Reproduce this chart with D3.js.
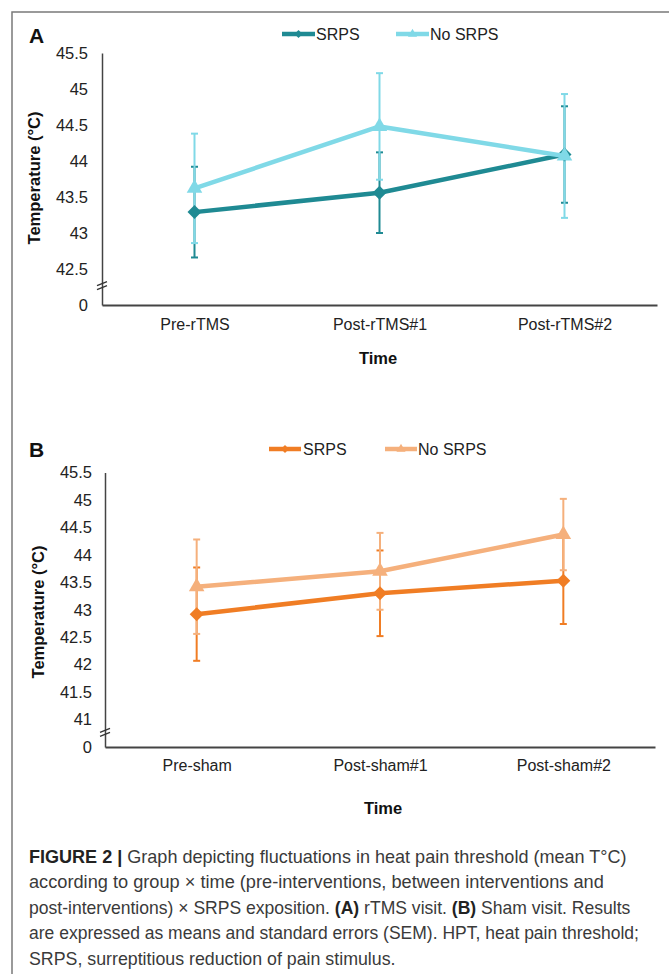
<!DOCTYPE html>
<html>
<head>
<meta charset="utf-8">
<script src="https://cdn.jsdelivr.net/npm/d3@7"></script>
<style>
  html, body { margin: 0; padding: 0; background: #fff; }
  svg { display: block; }
  text { font-family: "Liberation Sans", Arial, sans-serif; }
</style>
</head>
<body>
<svg id="fig" width="669" height="974"></svg>
<script>
// ---------- DATA ----------
const categoriesA = ["Pre-rTMS", "Post-rTMS#1", "Post-rTMS#2"];
const srpsA = [43.29, 43.56, 44.09];
const srpsAErr = [0.63, 0.56, 0.67];
const noSrpsA = [43.62, 44.48, 44.07];
const noSrpsAErr = [0.76, 0.74, 0.86];
const tickValuesA = [42, 42.5, 43, 43.5, 44, 44.5, 45, 45.5];
const tickLabelsA = ["0", "42.5", "43", "43.5", "44", "44.5", "45", "45.5"];

const categoriesB = ["Pre-sham", "Post-sham#1", "Post-sham#2"];
const srpsB = [42.92, 43.30, 43.53];
const srpsBErr = [0.85, 0.78, 0.79];
const noSrpsB = [43.42, 43.70, 44.37];
const noSrpsBErr = [0.86, 0.70, 0.65];
const tickValuesB = [40.5, 41, 41.5, 42, 42.5, 43, 43.5, 44, 44.5, 45, 45.5];
const tickLabelsB = ["0", "41", "41.5", "42", "42.5", "43", "43.5", "44", "44.5", "45", "45.5"];

const seriesNames = ["SRPS", "No SRPS"];

const captionLines = [
  [["FIGURE 2 |", true], [" Graph depicting fluctuations in heat pain threshold (mean T°C)", false]],
  [["according to group × time (pre-interventions, between interventions and", false]],
  [["post-interventions) × SRPS exposition. ", false], ["(A)", true], [" rTMS visit. ", false], ["(B)", true], [" Sham visit. Results", false]],
  [["are expressed as means and standard errors (SEM). HPT, heat pain threshold;", false]],
  [["SRPS, surreptitious reduction of pain stimulus.", false]]
];

// ---------- DRAWING ----------
const svg = d3.select("#fig");
const FONT = "'Liberation Sans', Arial, sans-serif";

// figure frame (left + top edges visible)
svg.append("rect")
  .attr("x", 12).attr("y", 12).attr("width", 720).attr("height", 1000)
  .attr("fill", "none").attr("stroke", "#7a7a7a").attr("stroke-width", 1.5);

function diamondPath(r) {
  return `M0,${-r}L${r},0L0,${r}L${-r},0Z`;
}

// fit a text element horizontally to a given width (keeps it as real text)
function fitWidth(sel, w) {
  sel.attr("textLength", w).attr("lengthAdjust", "spacingAndGlyphs");
}

function drawPanel(cfg) {
  const g = svg.append("g");
  const x = d3.scalePoint().domain(cfg.categories).range([cfg.x0, cfg.x1]).padding(0.5);
  const y = d3.scaleLinear().domain([cfg.tickValues[0], cfg.tickValues[cfg.tickValues.length - 1]])
    .range([cfg.yBottom, cfg.yTop]);

  // panel letter
  g.append("text").attr("x", 29).attr("y", cfg.letterY)
    .attr("font-size", 21).attr("font-weight", "bold").attr("fill", "#111").text(cfg.letter);

  // y axis
  const yAxis = d3.axisLeft(y).tickValues(cfg.tickValues)
    .tickFormat((d, i) => cfg.tickLabels[i]).tickSize(0).tickPadding(cfg.yPad);
  const ya = g.append("g").attr("transform", `translate(${cfg.x0},0)`).call(yAxis);
  ya.select(".domain").attr("stroke", "#444").attr("stroke-width", 1.5);
  ya.selectAll("text").attr("font-size", 16.5).attr("fill", "#222").style("font-family", FONT);

  // x axis
  const xAxis = d3.axisBottom(x).tickSize(0).tickPadding(cfg.xPad);
  const xa = g.append("g").attr("transform", `translate(0,${cfg.yBottom})`).call(xAxis);
  xa.select(".domain").attr("stroke", "#444").attr("stroke-width", 1.8);
  xa.selectAll("text").attr("font-size", 16).attr("fill", "#222").style("font-family", FONT);

  // axis break mark
  const by = y(cfg.tickValues[0]) - (y(cfg.tickValues[0]) - y(cfg.tickValues[1])) * 0.55;
  [-1.5, 2.5].forEach(o => {
    g.append("line")
      .attr("x1", cfg.x0 - 5).attr("y1", by + o + 2)
      .attr("x2", cfg.x0 + 5).attr("y2", by + o - 2)
      .attr("stroke", "#333").attr("stroke-width", 1.3);
  });

  // axis titles
  g.append("text")
    .attr("transform", `translate(${cfg.yTitleX},${cfg.yTitleY}) rotate(-90)`)
    .attr("text-anchor", "middle").attr("dominant-baseline", "central")
    .attr("font-size", 16.5).attr("font-weight", "bold").attr("fill", "#111")
    .text("Temperature (°C)");
  g.append("text").attr("x", cfg.timeX).attr("y", cfg.timeY)
    .attr("text-anchor", "middle").attr("dominant-baseline", "central")
    .attr("font-size", 16.5).attr("font-weight", "bold").attr("fill", "#111").text("Time");

  const series = [
    { vals: cfg.srps, err: cfg.srpsErr, color: cfg.c1, marker: "diamond" },
    { vals: cfg.noSrps, err: cfg.noSrpsErr, color: cfg.c2, marker: "triangle" }
  ];

  // error bars
  series.forEach(s => {
    const eg = g.append("g");
    cfg.categories.forEach((c, i) => {
      const cx = x(c), lo = y(s.vals[i] - s.err[i]), hi = y(s.vals[i] + s.err[i]);
      eg.append("line").attr("x1", cx).attr("x2", cx).attr("y1", lo).attr("y2", hi)
        .attr("stroke", s.color).attr("stroke-width", 2);
      [lo, hi].forEach(yy => eg.append("line")
        .attr("x1", cx - 3.5).attr("x2", cx + 3.5).attr("y1", yy).attr("y2", yy)
        .attr("stroke", s.color).attr("stroke-width", 2));
    });
  });

  // lines and markers
  series.forEach(s => {
    const line = d3.line().x((d, i) => x(cfg.categories[i])).y(d => y(d));
    g.append("path").datum(s.vals).attr("d", line)
      .attr("fill", "none").attr("stroke", s.color).attr("stroke-width", 4.5)
      .attr("stroke-linejoin", "round");
    s.vals.forEach((v, i) => {
      const p = g.append("path")
        .attr("transform", `translate(${x(cfg.categories[i])},${y(v)})`)
        .attr("fill", s.color);
      if (s.marker === "diamond") p.attr("d", diamondPath(7));
      else p.attr("d", d3.symbol(d3.symbolTriangle, 105)());
    });
  });

  // legend
  const lg = g.append("g");
  cfg.legend.forEach((L, k) => {
    const s = series[k];
    lg.append("line").attr("x1", L.x1).attr("x2", L.x2).attr("y1", cfg.legendY).attr("y2", cfg.legendY)
      .attr("stroke", s.color).attr("stroke-width", 4.5);
    const m = lg.append("path")
      .attr("transform", `translate(${(L.x1 + L.x2) / 2},${cfg.legendY})`).attr("fill", s.color);
    if (s.marker === "diamond") m.attr("d", diamondPath(4));
    else m.attr("d", d3.symbol(d3.symbolTriangle, 36)());
    lg.append("text").attr("x", L.tx).attr("y", cfg.legendY).attr("dominant-baseline", "central")
      .attr("font-size", 16).attr("fill", "#222").text(seriesNames[k]);
  });
}

drawPanel({
  letter: "A", letterY: 43,
  categories: categoriesA, srps: srpsA, srpsErr: srpsAErr, noSrps: noSrpsA, noSrpsErr: noSrpsAErr,
  tickValues: tickValuesA, tickLabels: tickLabelsA,
  x0: 102, x1: 657, yTop: 53, yBottom: 305, yPad: 14, xPad: 14,
  yTitleX: 34, yTitleY: 178, timeX: 378, timeY: 358,
  c1: "#1f8a93", c2: "#80d9e7",
  legendY: 34,
  legend: [{ x1: 282, x2: 315, tx: 316 }, { x1: 396, x2: 429, tx: 430 }]
});

drawPanel({
  letter: "B", letterY: 457,
  categories: categoriesB, srps: srpsB, srpsErr: srpsBErr, noSrps: noSrpsB, noSrpsErr: noSrpsBErr,
  tickValues: tickValuesB, tickLabels: tickLabelsB,
  x0: 105, x1: 655, yTop: 472.5, yBottom: 747, yPad: 13, xPad: 13,
  yTitleX: 38, yTitleY: 612, timeX: 383, timeY: 808,
  c1: "#f07d24", c2: "#f5b07c",
  legendY: 449,
  legend: [{ x1: 269, x2: 301, tx: 303 }, { x1: 385, x2: 417, tx: 418 }]
});

// caption
const capTargets = [627, 604, 631, 639, 396];
const capY0 = 863, capDy = 25.4;
captionLines.forEach((parts, li) => {
  const t = svg.append("text").attr("x", 0).attr("y", 0)
    .attr("font-size", 17.5).attr("fill", "#333");
  parts.forEach(([str, bold]) => {
    t.append("tspan").attr("font-weight", bold ? "bold" : "normal")
      .attr("fill", bold ? "#222" : "#3a3a3a").text(str);
  });
  const w = t.node().getComputedTextLength();
  const sx = (capTargets[li] - 29) / w;
  t.attr("transform", `translate(29,${capY0 + li * capDy}) scale(${sx},1)`);
});
</script>
</body>
</html>
